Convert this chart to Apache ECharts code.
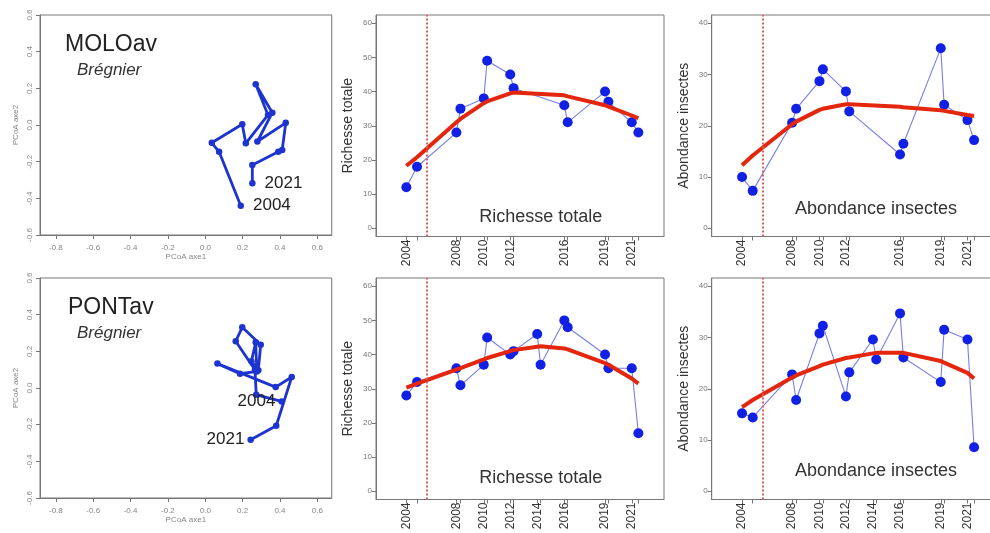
<!DOCTYPE html>
<html><head><meta charset="utf-8">
<script src="https://cdn.jsdelivr.net/npm/echarts@6/dist/echarts.min.js"></script>
<style>html,body{margin:0;padding:0;background:#fff}#c{width:990px;height:533px}</style>
</head><body><div id="c"></div>
<script>
// ---- Data ----
const yearsMOLO = [2004.0, 2004.79, 2007.71, 2008.01, 2009.74, 2009.99, 2011.70, 2011.95, 2015.71, 2015.96, 2018.73, 2018.98, 2020.71, 2021.20];
const labelYearsMOLO = [2004.0, 2007.71, 2009.74, 2011.70, 2015.71, 2018.73, 2020.71];
const richMOLO = [12, 18, 28, 35, 38, 49, 45, 41, 36, 31, 40, 37, 31, 28];
const richMOLOfit = [18.3, 20.8, 31.0, 32.0, 36.6, 37.1, 39.5, 39.7, 38.9, 38.6, 36.0, 35.6, 33.0, 32.2];
const abMOLO = [10, 7.3, 20.6, 23.3, 28.7, 31.0, 26.7, 22.8, 14.4, 16.5, 35.1, 24.1, 21.1, 17.2];
const abMOLOfit = [12.3, 14.2, 20.3, 20.8, 23.1, 23.3, 24.2, 24.2, 23.7, 23.6, 23.0, 22.9, 22.1, 21.9];

const yearsPONT = [2004.0, 2004.79, 2007.71, 2008.01, 2009.74, 2009.99, 2011.70, 2011.95, 2013.70, 2013.95, 2015.71, 2015.96, 2018.73, 2018.98, 2020.71, 2021.20];
const labelYearsPONT = [2004.0, 2007.71, 2009.74, 2011.70, 2013.70, 2015.71, 2018.73, 2020.71];
const richPONT = [28, 32, 36, 31, 37, 45, 40, 41, 46, 37, 50, 48, 40, 36, 36, 17];
const richPONTfit = [30.3, 31.5, 35.6, 36.0, 38.6, 39.0, 41.0, 41.3, 42.3, 42.4, 41.8, 41.5, 37.5, 37.0, 33.0, 31.5];
const abPONT = [15.2, 14.4, 22.8, 17.8, 30.8, 32.3, 18.5, 23.2, 29.6, 25.7, 34.7, 26.1, 21.3, 31.5, 29.6, 8.6];
const abPONTfit = [16.4, 17.8, 22.2, 22.6, 24.4, 24.7, 26.0, 26.1, 26.9, 27.0, 27.0, 27.0, 25.4, 25.1, 23.1, 22.0];

const cutYear = 2005.5;

const pcoaMOLOx = [0.190, 0.074, 0.035, 0.198, 0.217, 0.336, 0.270, 0.359, 0.279, 0.431, 0.412, 0.391, 0.252, 0.252];
const pcoaMOLOy = [-0.440, -0.146, -0.097, 0.004, -0.100, 0.055, 0.222, 0.067, -0.090, 0.012, -0.136, -0.146, -0.218, -0.318];
const pcoaPONTx = [0.409, 0.273, 0.266, 0.163, 0.198, 0.297, 0.284, 0.247, 0.270, 0.276, 0.186, 0.065, 0.377, 0.463, 0.380, 0.243];
const pcoaPONTy = [-0.073, -0.037, 0.100, 0.255, 0.331, 0.236, 0.097, 0.146, 0.249, 0.090, 0.078, 0.133, 0.005, 0.060, -0.206, -0.282];
const pcoaEnds = ['2004', '2021'];

const pcoaXTicks = [-0.8, -0.6, -0.4, -0.2, 0, 0.2, 0.4, 0.6];
const pcoaYTicks = [-0.6, -0.4, -0.2, 0, 0.2, 0.4, 0.6];
const richTicks = [0, 10, 20, 30, 40, 50, 60];
const abTicks = [0, 10, 20, 30, 40];

// ---- Build ----
const FONT = 'Liberation Sans, Arial, Helvetica, sans-serif';
const zip = (a, b) => a.map((v, i) => [v, b[i]]);

const gridDefs = [
  {left: 40, top: 15, width: 291.7, height: 220},
  {left: 376, top: 15, width: 288, height: 221.5},
  {left: 711.7, top: 15, width: 288, height: 221.5},
  {left: 40, top: 278, width: 291.7, height: 220},
  {left: 376, top: 278, width: 288, height: 221.5},
  {left: 711.7, top: 278, width: 288, height: 221.5}
].map(g => Object.assign(g, {show: true, borderColor: '#777', borderWidth: 1, backgroundColor: '#fff', containLabel: false, outerBoundsMode: 'none'}));

const axLine = {show: true, onZero: false, lineStyle: {color: '#777', width: 1}};

function pcoaX(gi) {
  return {gridIndex: gi, type: 'value', min: -0.885, max: 0.677, axisLine: axLine, splitLine: {show: false},
    axisTick: {show: true, length: 4, lineStyle: {color: '#777'}, customValues: pcoaXTicks},
    axisLabel: {customValues: pcoaXTicks, formatter: v => v.toFixed(1), fontSize: 8, color: '#888', margin: 9, fontFamily: FONT},
    name: 'PCoA axe1', nameLocation: 'middle', nameGap: 17, nameTextStyle: {fontSize: 8, color: '#888', fontFamily: FONT}};
}
function pcoaY(gi) {
  return {gridIndex: gi, type: 'value', min: -0.6, max: 0.6, axisLine: axLine, splitLine: {show: false},
    axisTick: {show: true, length: 4, lineStyle: {color: '#777'}, customValues: pcoaYTicks},
    axisLabel: {customValues: pcoaYTicks, formatter: v => v.toFixed(1), rotate: 90, fontSize: 8, color: '#888', margin: 6, fontFamily: FONT},
    name: 'PCoA axe2', nameLocation: 'middle', nameGap: 20, nameTextStyle: {fontSize: 8, color: '#888', fontFamily: FONT}};
}
function tsX(gi, ticks, labels) {
  return {gridIndex: gi, type: 'value', min: 2001.75, max: 2023.1, axisLine: axLine, splitLine: {show: false},
    axisTick: {show: true, length: 4, lineStyle: {color: '#777'}, customValues: ticks},
    axisLabel: {customValues: labels, formatter: v => String(Math.round(v)), rotate: 90, fontSize: 12, color: '#333', margin: 3, fontFamily: FONT}};
}
function tsY(gi, ticks, max, name) {
  const pad = max * 0.04;
  return {gridIndex: gi, type: 'value', min: -pad, max: max + pad, axisLine: axLine, splitLine: {show: false},
    axisTick: {show: true, length: 4, lineStyle: {color: '#777'}, customValues: ticks},
    axisLabel: {customValues: ticks, fontSize: 8, color: '#777', margin: 4, fontFamily: FONT},
    name: name, nameLocation: 'middle', nameGap: 21, nameTextStyle: {fontSize: 14, color: '#333', fontFamily: FONT}};
}

function pcoaSeries(gi, xs, ys, pos, dist) {
  const data = xs.map((x, i) => {
    const item = {value: [x, ys[i]]};
    if (i === 0 || i === xs.length - 1) {
      item.label = {show: true, position: pos, distance: dist, formatter: i === 0 ? pcoaEnds[0] : pcoaEnds[1],
        fontSize: 17, color: '#222', fontFamily: FONT};
    }
    return item;
  });
  return {type: 'line', xAxisIndex: gi, yAxisIndex: gi, data: data, symbol: 'circle', symbolSize: 6.5, showSymbol: true,
    lineStyle: {color: '#1d34d0', width: 2.8}, itemStyle: {color: '#1d34d0'}, z: 3, animation: false};
}
function tsSeries(gi, xs, ys, fit) {
  return [
    {type: 'line', xAxisIndex: gi, yAxisIndex: gi, data: zip(xs, ys), symbol: 'none',
      lineStyle: {color: '#767ee6', width: 1.1}, z: 2, animation: false,
      markLine: {silent: true, symbol: 'none', label: {show: false}, animation: false,
        lineStyle: {color: '#e25c5c', width: 2, type: [2, 2]}, data: [{xAxis: cutYear}]}},
    {type: 'scatter', xAxisIndex: gi, yAxisIndex: gi, data: zip(xs, ys), symbolSize: 10,
      itemStyle: {color: '#1020e4', opacity: 1}, z: 3, animation: false},
    {type: 'line', xAxisIndex: gi, yAxisIndex: gi, data: zip(xs, fit), symbol: 'none', smooth: false,
      lineStyle: {color: '#e4260c', width: 4}, z: 4, animation: false}
  ];
}

const txt = (text, x, y, size, opts) => Object.assign({type: 'text', x: x, y: y, z: 100,
  style: Object.assign({text: text, fontSize: size, fontFamily: FONT, fill: '#222', align: 'left', verticalAlign: 'middle'}, opts || {})});

const option = {
  backgroundColor: '#fff',
  animation: false,
  grid: gridDefs,
  xAxis: [pcoaX(0), tsX(1, yearsMOLO, labelYearsMOLO), tsX(2, yearsMOLO, labelYearsMOLO),
          pcoaX(3), tsX(4, yearsPONT, labelYearsPONT), tsX(5, yearsPONT, labelYearsPONT)],
  yAxis: [pcoaY(0), tsY(1, richTicks, 60, 'Richesse totale'), tsY(2, abTicks, 40, 'Abondance insectes'),
          pcoaY(3), tsY(4, richTicks, 60, 'Richesse totale'), tsY(5, abTicks, 40, 'Abondance insectes')],
  series: [
    pcoaSeries(0, pcoaMOLOx, pcoaMOLOy, 'right', 9),
    ...tsSeries(1, yearsMOLO, richMOLO, richMOLOfit),
    ...tsSeries(2, yearsMOLO, abMOLO, abMOLOfit),
    pcoaSeries(3, pcoaPONTx, pcoaPONTy, 'left', 3),
    ...tsSeries(4, yearsPONT, richPONT, richPONTfit),
    ...tsSeries(5, yearsPONT, abPONT, abPONTfit)
  ],
  graphic: [
    txt('MOLOav', 65, 45, 23),
    txt('Brégnier', 77, 70, 17, {fontStyle: 'italic', fill: '#333'}),
    txt('PONTav', 68, 308, 23),
    txt('Brégnier', 77, 333, 17, {fontStyle: 'italic', fill: '#333'}),
    txt('Richesse totale', 540.7, 216.7, 18, {align: 'center', fill: '#333'}),
    txt('Abondance insectes', 876, 209.3, 18, {align: 'center', fill: '#333'}),
    txt('Richesse totale', 540.7, 478, 18, {align: 'center', fill: '#333'}),
    txt('Abondance insectes', 876, 471.3, 18, {align: 'center', fill: '#333'})
  ]
};

const chart = echarts.init(document.getElementById('c'), null, {renderer: 'canvas'});
chart.setOption(option);
</script>
</body></html>
